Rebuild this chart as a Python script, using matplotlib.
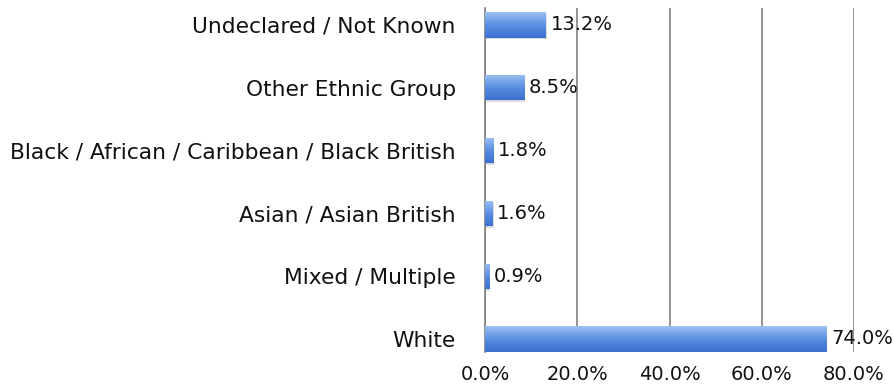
import matplotlib.pyplot as plt
import numpy as np
from matplotlib.colors import LinearSegmentedColormap

categories = ['White', 'Mixed / Multiple', 'Asian / Asian British',
              'Black / African / Caribbean / Black British',
              'Other Ethnic Group', 'Undeclared / Not Known']
values = [74.0, 0.9, 1.6, 1.8, 8.5, 13.2]
xticks = [0, 20, 40, 60, 80]

fig = plt.figure(figsize=(8.94, 3.87), dpi=100)
ax = fig.add_axes([485/894, 1-352/387, (854-485)/894, (352-8)/387])

ypos = np.arange(len(categories))
bh = 0.4
fs = 15.7
fs_num = 14
bars = ax.barh(ypos, values, height=bh, color='none', edgecolor='none', zorder=3)

# vertical gradient fill for each bar, plus a soft shadow
grad = LinearSegmentedColormap.from_list('g', ['#3b6fcf', '#5a8fe3', '#9dc0f2'])
g = np.linspace(0, 1, 64).reshape(-1, 1)
for b, v, y in zip(bars, values, ypos):
    ax.add_patch(plt.Rectangle((0, y - bh/2 - 0.03), v + 0.25, bh, color='#b8b8b8',
                               alpha=0.5, lw=0, zorder=2))
    im = ax.imshow(g, cmap=grad, aspect='auto', origin='lower',
                   extent=(0, v, y - bh/2, y + bh/2), zorder=3)
    im.set_clip_path(b)
    ax.text(v + 1.0, y, '%.1f%%' % v, va='center', ha='left', fontsize=fs_num,
            color='#111111', zorder=4)

ax.set_xlim(0, 80)
ax.set_ylim(-0.207, 5.27)
ax.set_xticks(xticks)
ax.set_xticklabels(['%.1f%%' % t for t in xticks], fontsize=fs_num, color='#111111')
ax.set_yticks(ypos)
ax.set_yticklabels(categories, fontsize=fs, color='#111111')
ax.tick_params(length=0)
ax.tick_params(axis='x', pad=9)
ax.tick_params(axis='y', pad=21)
ax.xaxis.grid(True, color='#808080', lw=1.2, zorder=1)
for s in ['top', 'right', 'bottom']:
    ax.spines[s].set_visible(False)
ax.spines['left'].set_color('#808080')
ax.spines['left'].set_linewidth(1.2)

fig.savefig('out.png', dpi=100)
